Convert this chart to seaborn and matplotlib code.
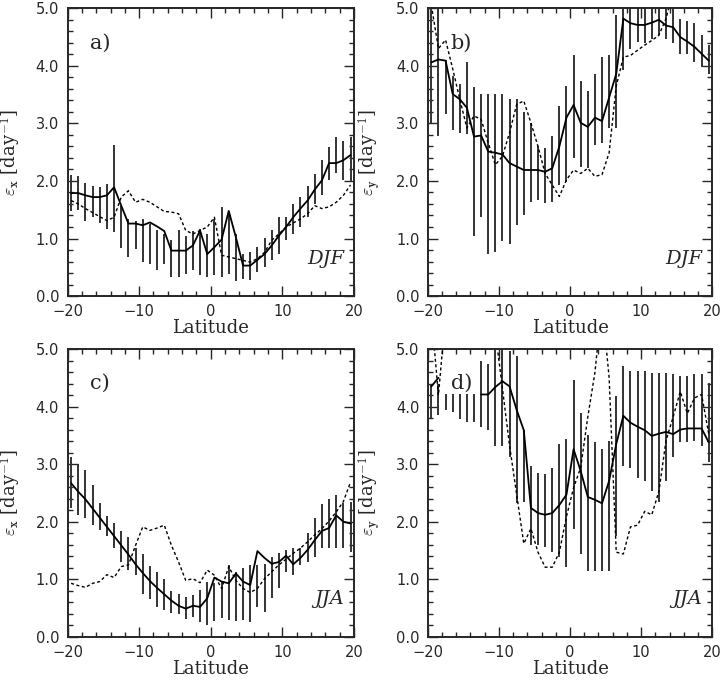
import numpy as np
import seaborn as sns
import matplotlib
matplotlib.use("Agg")
import matplotlib.pyplot as plt
from matplotlib.ticker import MultipleLocator, FormatStrFormatter, FuncFormatter

nan = np.nan

# latitude of the grid points (bars and line vertices)
lat = np.arange(-19.5, 20.0, 1.0)

# a) eps_x DJF
a_line = [1.79, 1.79, 1.75, 1.72, 1.72, 1.75, 1.89, 1.57, 1.26, 1.26, 1.23, 1.28, 1.21, 1.13, 0.79, 0.79, 0.79, 0.88, 1.14, 0.73,
          0.85, 0.98, 1.48, 1.02, 0.53, 0.53, 0.63, 0.73, 0.88, 1.05, 1.20, 1.37, 1.52, 1.66, 1.85, 2.01, 2.31, 2.31, 2.36, 2.45]
a_lo = [1.48, 1.50, 1.31, 1.38, 1.27, 1.17, 1.12, 0.84, 0.68, 0.82, 0.59, 0.56, 0.45, 0.56, 0.33, 0.33, 0.38, 0.45, 0.36, 0.33,
        0.36, 0.33, 0.39, 0.27, 0.30, 0.28, 0.42, 0.50, 0.62, 0.73, 0.97, 1.08, 1.20, 1.37, 1.60, 1.75, 2.01, 2.14, 2.01, 1.98]
a_hi = [2.11, 2.09, 1.96, 1.92, 1.89, 1.95, 2.62, 1.56, 1.34, 1.31, 1.34, 1.26, 1.14, 1.08, 0.97, 1.14, 1.05, 1.13, 1.17, 1.08,
        1.34, 1.55, 1.43, 1.08, 0.73, 0.76, 0.85, 1.01, 1.14, 1.37, 1.37, 1.60, 1.72, 1.92, 2.12, 2.36, 2.59, 2.76, 2.70, 2.77]
a_dash = [1.66, 1.60, 1.52, 1.45, 1.38, 1.31, 1.37, 1.72, 1.83, 1.63, 1.68, 1.63, 1.55, 1.47, 1.46, 1.43, 1.14, 1.08, 1.14, 1.20,
          1.37, 0.71, 0.68, 0.65, 0.62, 0.59, 0.65, 0.76, 0.97, 1.08, 1.20, 1.27, 1.34, 1.43, 1.57, 1.52, 1.55, 1.63, 1.75, 1.93]

# b) eps_y DJF
b_line = [4.06, 4.11, 4.09, 3.51, 3.42, 3.27, 2.77, 2.79, 2.51, 2.49, 2.46, 2.31, 2.25, 2.19, 2.19, 2.19, 2.16, 2.22, 2.60, 3.10,
          3.32, 3.01, 2.94, 3.10, 3.04, 3.45, 3.86, 4.82, 4.74, 4.71, 4.71, 4.75, 4.80, 4.70, 4.67, 4.50, 4.42, 4.33, 4.21, 4.09]
b_lo = [3.00, 2.78, 3.16, 2.89, 2.84, 2.81, 1.05, 1.37, 0.73, 0.76, 0.96, 0.91, 1.23, 1.40, 1.64, 1.67, 1.61, 1.64, 1.93, 1.99,
        2.40, 2.25, 2.22, 2.63, 2.66, 2.92, 2.92, 3.92, 4.30, 4.42, 4.39, 4.47, 4.53, 4.47, 4.39, 4.21, 4.21, 4.06, 3.98, 3.86]
b_hi = [5.10, 5.10, 4.10, 3.83, 3.68, 4.06, 3.63, 3.51, 3.51, 3.51, 3.51, 3.42, 3.42, 3.19, 3.01, 2.60, 2.57, 2.78, 3.30, 3.65,
        4.18, 3.74, 3.57, 3.86, 4.15, 4.18, 4.88, 5.10, 5.10, 5.10, 5.10, 5.10, 5.10, 5.10, 5.10, 4.82, 4.77, 4.74, 4.53, 4.36]
b_dash = [5.05, 4.30, 4.45, 3.95, 3.42, 2.92, 3.13, 3.07, 2.66, 2.28, 2.43, 2.84, 3.33, 3.39, 3.01, 2.60, 2.13, 1.93, 1.73, 2.02,
          2.19, 2.13, 2.22, 2.08, 2.11, 2.49, 3.65, 4.15, 4.18, 4.27, 4.36, 4.44, 4.53, 4.82, 5.30, 5.60, 5.80, 6.00, 6.20, 6.40]

# c) eps_x JJA
c_line = [2.67, 2.52, 2.39, 2.23, 2.07, 1.91, 1.75, 1.59, 1.43, 1.26, 1.11, 0.97, 0.85, 0.74, 0.63, 0.54, 0.49, 0.54, 0.52, 0.67,
          1.03, 0.96, 0.93, 1.10, 0.96, 0.90, 1.49, 1.37, 1.27, 1.30, 1.41, 1.26, 1.37, 1.51, 1.68, 1.84, 1.89, 2.11, 2.00, 1.97]
c_lo = [2.23, 2.11, 2.06, 1.94, 1.85, 1.75, 1.55, 1.30, 1.16, 1.07, 0.75, 0.65, 0.52, 0.46, 0.41, 0.39, 0.31, 0.35, 0.26, 0.20,
        0.27, 0.32, 0.29, 0.27, 0.29, 0.26, 0.52, 0.43, 0.67, 0.84, 1.13, 1.07, 1.25, 1.30, 1.39, 1.54, 1.54, 1.54, 1.54, 1.48]
c_hi = [3.13, 3.01, 2.90, 2.64, 2.33, 2.10, 1.97, 1.84, 1.74, 1.55, 1.44, 1.23, 1.13, 1.01, 0.79, 0.74, 0.70, 0.72, 0.81, 0.96,
        0.93, 0.96, 1.25, 1.13, 1.19, 1.25, 1.25, 1.27, 1.39, 1.45, 1.51, 1.54, 1.54, 1.80, 2.06, 2.30, 2.40, 2.47, 2.32, 2.35]
c_dash = [0.93, 0.89, 0.86, 0.93, 0.96, 1.08, 1.03, 1.22, 1.25, 1.59, 1.91, 1.85, 1.89, 1.94, 1.59, 1.30, 0.98, 1.01, 0.94, 1.16,
          1.07, 0.84, 1.22, 0.98, 0.84, 0.77, 0.84, 1.01, 1.13, 1.25, 1.35, 1.45, 1.54, 1.65, 1.77, 1.88, 2.01, 2.17, 2.35, 2.69]

# d) eps_y JJA
d_line = [4.35, 4.50, nan, nan, nan, nan, nan, 4.21, 4.21, 4.34, 4.44, 4.35, 3.94, 3.59, 2.24, 2.15, 2.12, 2.15, 2.29, 2.47,
          3.26, 2.88, 2.43, 2.38, 2.32, 2.71, 3.35, 3.84, 3.72, 3.65, 3.59, 3.49, 3.53, 3.56, 3.52, 3.60, 3.62, 3.62, 3.62, 3.38]
d_lo = [3.80, 3.85, 3.94, 3.91, 3.79, 3.74, 3.74, 3.65, 3.59, 3.32, 3.32, 3.12, 2.32, 2.35, 1.59, 1.59, 1.56, 1.47, 1.38, 1.21,
        1.88, 1.44, 1.15, 1.15, 1.15, 1.15, 1.76, 2.97, 2.94, 2.76, 2.71, 2.53, 2.35, 2.71, 3.12, 3.38, 3.38, 3.41, 3.32, 3.03]
d_hi = [4.40, 4.40, 4.21, 4.21, 4.21, 4.21, 4.21, 4.79, 4.74, 5.00, 5.10, 4.97, 4.88, 3.60, 2.97, 2.84, 2.82, 2.94, 3.35, 3.44,
        4.47, 3.88, 3.50, 3.38, 3.26, 3.41, 4.18, 4.71, 4.62, 4.62, 4.62, 4.59, 4.59, 4.59, 4.56, 4.53, 4.53, 4.56, 4.56, 4.41]
d_dash = [5.60, 4.20, 5.60, 6.00, 6.00, 6.00, 6.00, 6.00, 6.00, 5.30, 4.31, 3.32, 2.47, 1.62, 1.88, 1.47, 1.21, 1.21, 1.47, 2.09,
          2.59, 2.94, 3.82, 4.59, 5.80, 4.50, 1.47, 1.44, 1.91, 1.94, 2.18, 2.12, 2.53, 3.41, 3.82, 4.26, 3.88, 4.15, 4.21, 3.53]

panels = [
    ("a)", "DJF", r"$\varepsilon_{\mathbf{x}}$ [day$^{-1}$]", a_line, a_lo, a_hi, a_dash),
    ("b)", "DJF", r"$\varepsilon_{\mathbf{y}}$ [day$^{-1}$]", b_line, b_lo, b_hi, b_dash),
    ("c)", "JJA", r"$\varepsilon_{\mathbf{x}}$ [day$^{-1}$]", c_line, c_lo, c_hi, c_dash),
    ("d)", "JJA", r"$\varepsilon_{\mathbf{y}}$ [day$^{-1}$]", d_line, d_lo, d_hi, d_dash),
]

sns.set_style("ticks")
plt.rcParams["font.family"] = ["DejaVu Sans"]
plt.rcParams["mathtext.fontset"] = "cm"

# axes boxes in figure fractions [left, bottom, width, height]
boxes = [
    [0.0935, 0.569, 0.397, 0.419],
    [0.5925, 0.569, 0.394, 0.419],
    [0.0935, 0.073, 0.397, 0.419],
    [0.5925, 0.073, 0.394, 0.419],
]


def runs(x, y):
    # split into contiguous pieces so missing values leave gaps
    y = np.asarray(y, dtype=float)
    ok = ~np.isnan(y)
    out, start = [], None
    for i, v in enumerate(ok):
        if v and start is None:
            start = i
        if (not v or i == len(ok) - 1) and start is not None:
            end = i + 1 if v else i
            out.append((x[start:end], y[start:end]))
            start = None
    return out


fig = plt.figure(figsize=(7.22, 6.87), dpi=100)

for box, (tag, season, ylab, line, lo, hi, dash) in zip(boxes, panels):
    ax = fig.add_axes(box)
    ax.vlines(lat, lo, hi, color="0.2", lw=1.4)
    for xs, ys in runs(lat, line):
        sns.lineplot(x=xs, y=ys, ax=ax, color="black", lw=1.3, estimator=None, sort=False)
    sns.lineplot(x=lat, y=dash, ax=ax, color="black", lw=1.0, estimator=None, sort=False,
                 linestyle=(0, (2.2, 1.8)))

    ax.set_xlim(-20, 20)
    ax.set_ylim(0, 5)
    ax.xaxis.set_major_locator(MultipleLocator(10))
    ax.xaxis.set_minor_locator(MultipleLocator(2))
    ax.yaxis.set_major_locator(MultipleLocator(1))
    ax.yaxis.set_minor_locator(MultipleLocator(0.2))
    ax.yaxis.set_major_formatter(FormatStrFormatter("%.1f"))
    ax.xaxis.set_major_formatter(FuncFormatter(lambda v, p: f"{v:.0f}".replace("-", "\u2212")))
    ax.tick_params(which="both", direction="in", top=True, right=True, width=1.0, labelsize=10.5)
    ax.tick_params(which="major", length=7)
    ax.tick_params(which="minor", length=3.5)
    ax.tick_params(axis="x", pad=6)
    ax.tick_params(axis="y", pad=6)
    for s in ax.spines.values():
        s.set_linewidth(1.4)

    ax.set_xlabel("Latitude", family="DejaVu Serif", fontsize=13)
    ax.xaxis.set_label_coords(0.5, -0.08)
    ax.set_ylabel(ylab, family="DejaVu Serif", fontsize=13)
    ax.yaxis.set_label_coords(-0.155, 0.5)

    ax.text(0.08, 0.88, tag, transform=ax.transAxes, family="DejaVu Serif", fontsize=15,
            ha="left", va="center")
    ax.text(0.965, 0.13, season, transform=ax.transAxes, family="DejaVu Serif", style="italic",
            fontsize=14, ha="right", va="center")

fig.savefig("out.png", dpi=100)
